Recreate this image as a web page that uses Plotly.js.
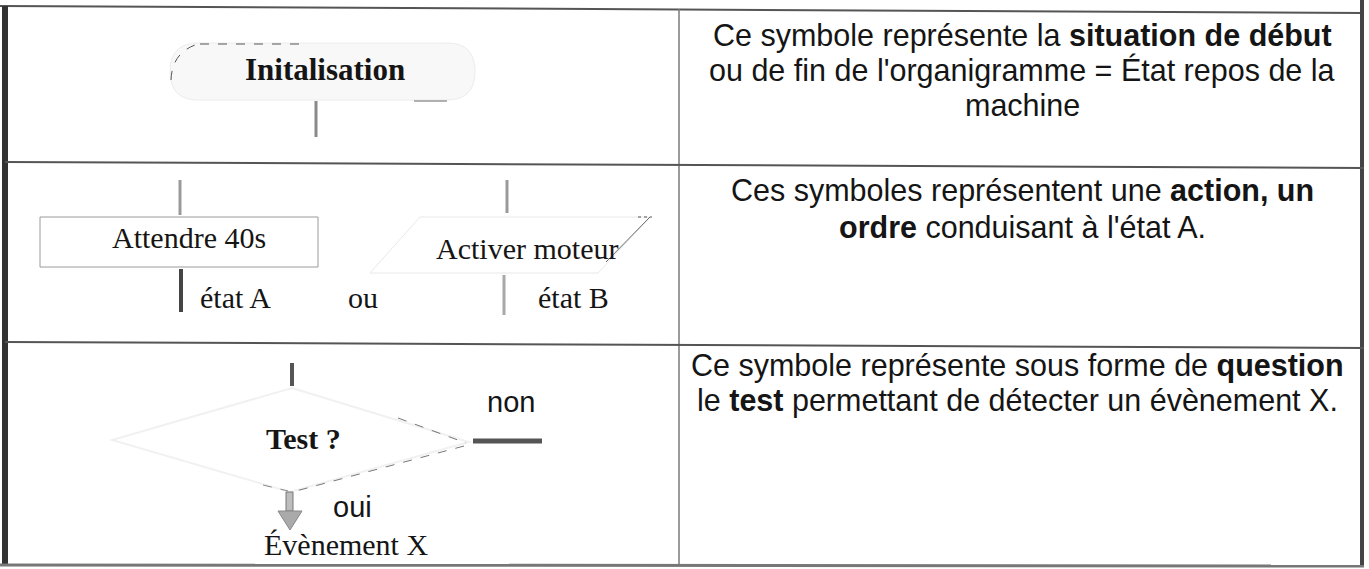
<!DOCTYPE html>
<html>
<head>
<meta charset="utf-8">
<script src="https://cdn.plot.ly/plotly-3.0.1.min.js"></script>
<style>html,body{margin:0;padding:0;background:#fff;}#chart{width:1369px;height:569px;}</style>
</head>
<body>
<div id="chart"></div>
<script>
// ---- content (texts of the table) ----
const symbolLabels = ["Initalisation", "Attendre 40s", "Activer moteur", "Test ?"];
const stateLabels = ["état A", "ou", "état B"];
const branchLabels = ["non", "oui", "Évènement X"];
const row1Lines = ["Ce symbole représente la <b>situation de début</b>",
                   "ou de fin de l'organigramme = État repos de la",
                   "machine"];
const row2Lines = ["Ces symboles représentent une <b>action, un</b>",
                   "<b>ordre</b> conduisant à l'état A."];
const row3Lines = ["Ce symbole représente sous forme de <b>question</b>",
                   "le <b>test</b> permettant de détecter un évènement X."];

const SERIF = "Liberation Serif, Times New Roman, serif";
const SANS = "Liberation Sans, Arial, sans-serif";

function line(x0, y0, x1, y1, color, width, dash) {
  return {type: "line", xref: "x", yref: "y", x0: x0, y0: y0, x1: x1, y1: y1,
          line: {color: color, width: width, dash: dash || "solid"}};
}
function path(d, color, width, fill, dash) {
  return {type: "path", xref: "x", yref: "y", path: d,
          line: {color: color, width: width, dash: dash || "solid"},
          fillcolor: fill || "rgba(0,0,0,0)"};
}
function ann(text, x, y, font, size, opts) {
  return Object.assign({xref: "x", yref: "y", x: x, y: y, text: text, showarrow: false,
          xanchor: "center", yanchor: "middle",
          font: {family: font, size: size, color: "#151515"}}, opts || {});
}

const shapes = [];
// terminal (rounded) symbol
shapes.push(path("M198,43 L447,43 Q475,43 475,71.5 Q475,100 447,100 L198,100 Q170,100 170,71.5 Q170,43 198,43 Z",
                 "#ececec", 1, "#f8f8f8"));
shapes.push(path("M171,80 Q172,52 198,44", "#555", 1, null, "dash"));
shapes.push(path("M200,44 L305,44", "#555", 1.2, null, "dash"));
shapes.push(line(414, 101, 447, 101, "#666", 1));
shapes.push(line(316, 101, 316, 137, "#8a8a8a", 3));

// action rectangle
shapes.push(line(180, 180, 180, 215, "#9a9a9a", 3));
shapes.push({type: "rect", xref: "x", yref: "y", x0: 40, y0: 217, x1: 318, y1: 267,
             line: {color: "#9a9a9a", width: 1}, fillcolor: "rgba(0,0,0,0)"});
shapes.push(line(181, 269, 181, 312, "#444", 4));

// parallelogram
shapes.push(line(507, 180, 507, 213, "#9a9a9a", 3));
shapes.push(path("M420,217 L650,217 L598,273 L370,273 Z", "#e8e8e8", 1));
shapes.push(line(650, 217, 606, 262, "#666", 1));
shapes.push(line(638, 217, 652, 217, "#555", 1, "dot"));
shapes.push(line(504, 275, 504, 315, "#a8a8a8", 3));

// decision diamond
shapes.push(line(292, 363, 292, 386, "#555", 4));
shapes.push(path("M292,388 L469,442 L290,492 L112,440 Z", "#f1f1f1", 2));
shapes.push(line(398, 418, 466, 443, "#777", 1, "dash"));
shapes.push(line(464, 446, 296, 491, "#777", 1, "dash"));
shapes.push(line(263, 485, 288, 491, "#888", 1, "dash"));
shapes.push(line(473, 441, 542, 441, "#555", 5));
// arrow down (oui)
shapes.push({type: "rect", xref: "x", yref: "y", x0: 286, y0: 492, x1: 293, y1: 511,
             line: {color: "#777", width: 1}, fillcolor: "#bdbdbd"});
shapes.push(path("M278,511 L302,511 L290,530 Z", "#888", 1, "#aaaaaa"));

// table grid
shapes.push(line(0, 6, 1364, 13, "#555", 2));
shapes.push(line(5, 6, 5, 566, "#333", 6));
shapes.push(line(1362, 0, 1362, 566, "#444", 4));
shapes.push(line(679, 9, 679, 566, "#7a7a7a", 1.5));
shapes.push(line(5, 162, 1364, 168, "#555", 2));
shapes.push(line(5, 342, 1364, 348, "#555", 2));
shapes.push(line(0, 565, 1364, 566, "#777", 3));

const annotations = [];
annotations.push(ann("<b>" + symbolLabels[0] + "</b>", 325, 69, SERIF, 31));
annotations.push(ann(symbolLabels[1], 189, 237, SERIF, 30));
annotations.push(ann(symbolLabels[2], 527, 248, SERIF, 30));
annotations.push(ann("<b>" + symbolLabels[3] + "</b>", 303, 438, SERIF, 30));
annotations.push(ann(stateLabels[0], 235, 297, SERIF, 30));
annotations.push(ann(stateLabels[1], 363, 297, SERIF, 30));
annotations.push(ann(stateLabels[2], 573, 297, SERIF, 30));
annotations.push(ann(branchLabels[0], 511, 402, SANS, 29));
annotations.push(ann(branchLabels[1], 352, 507, SANS, 29));
annotations.push(ann(branchLabels[2], 346, 544, SERIF, 30));

const textCx = 1022;
const row1Y = [35, 70, 105];
row1Lines.forEach((t, i) => annotations.push(ann(t, textCx, row1Y[i], SANS, 30.5)));
const row2Y = [190, 227];
row2Lines.forEach((t, i) => annotations.push(ann(t, textCx, row2Y[i], SANS, 30.5)));
const row3Y = [365, 400];
row3Lines.forEach((t, i) => annotations.push(ann(t, 1017, row3Y[i], SANS, 30.5)));

const layout = {
  width: 1369, height: 569,
  margin: {l: 0, r: 0, t: 0, b: 0, pad: 0},
  paper_bgcolor: "#ffffff", plot_bgcolor: "#ffffff",
  showlegend: false,
  xaxis: {range: [0, 1369], visible: false, fixedrange: true},
  yaxis: {range: [569, 0], visible: false, fixedrange: true},
  shapes: shapes,
  annotations: annotations
};
Plotly.newPlot("chart", [], layout, {displayModeBar: false, staticPlot: true});
</script>
</body>
</html>
